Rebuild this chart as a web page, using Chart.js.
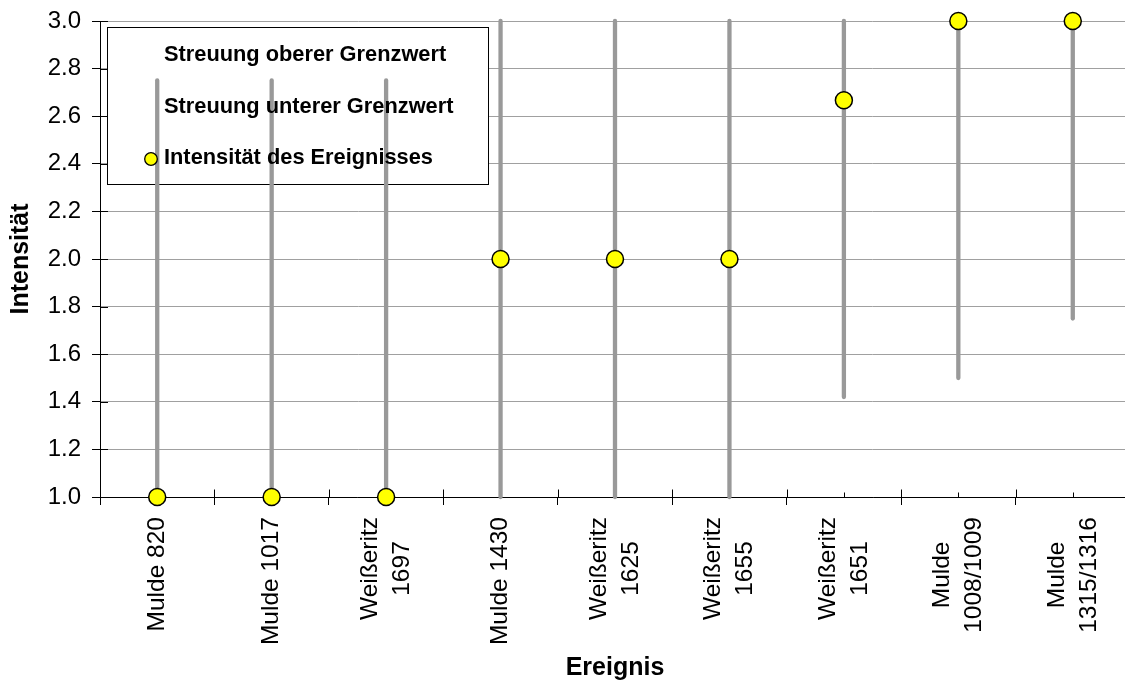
<!DOCTYPE html>
<html>
<head>
<meta charset="utf-8">
<script src="https://cdn.jsdelivr.net/npm/chart.js@4/dist/chart.umd.min.js"></script>
<style>
  html, body { margin: 0; padding: 0; overflow: hidden; background: #fff; width: 1125px; height: 684px; }
  #wrap { position: relative; width: 1140px; height: 684px; }
</style>
</head>
<body>
<div id="wrap"><canvas id="c"></canvas></div>
<script>
// ---- data ----
const categories = [
  ["Mulde 820"], ["Mulde 1017"], ["Weißeritz", "1697"], ["Mulde 1430"],
  ["Weißeritz", "1625"], ["Weißeritz", "1655"], ["Weißeritz", "1651"],
  ["Mulde", "1008/1009"], ["Mulde", "1315/1316"]
];
const upperLimit = [2.75, 2.75, 2.75, 3.0, 3.0, 3.0, 3.0, 3.0, 3.0];
const lowerLimit = [1.0, 1.0, 1.0, 1.0, 1.0, 1.0, 1.42, 1.5, 1.75];
const intensity  = [1.0, 1.0, 1.0, 2.0, 2.0, 2.0, 2.667, 3.0, 3.0];
const seriesNames = ["Streuung oberer Grenzwert", "Streuung unterer Grenzwert", "Intensität des Ereignisses"];
const yMin = 1.0, yMax = 3.0, yStep = 0.2;
const xTitle = "Ereignis";
const yTitle = "Intensität";

const FONT = "'Liberation Sans', Arial, Helvetica, sans-serif";

// high-low lines between upper and lower series
const hiLoPlugin = {
  id: 'hiLo',
  beforeDatasetsDraw(chart) {
    const ctx = chart.ctx;
    const xs = chart.scales.x, ys = chart.scales.y;
    const area = chart.chartArea;
    ctx.save();
    // inner parts of tick marks
    ctx.strokeStyle = '#000';
    ctx.lineWidth = 1;
    ys.ticks.forEach((t) => {
      const y = Math.round(ys.getPixelForValue(t.value)) + 0.5;
      ctx.beginPath(); ctx.moveTo(area.left, y); ctx.lineTo(area.left + 8, y); ctx.stroke();
    });
    const bottom = Math.round(area.bottom) + 0.5;
    for (let i = 0; i <= categories.length; i++) {
      const x = Math.round(xs.getPixelForValue(i - 0.5)) + 0.5;
      ctx.beginPath(); ctx.moveTo(x, bottom - 8); ctx.lineTo(x, bottom); ctx.stroke();
    }
    for (let i = 0; i < categories.length; i++) {
      const x = Math.round(xs.getPixelForValue(i)) + 0.5;
      ctx.beginPath(); ctx.moveTo(x, bottom - 5); ctx.lineTo(x, bottom); ctx.stroke();
    }
    // legend box (under the series)
    const lb = chart.options.plugins.innerLegend.box;
    ctx.fillStyle = '#fff';
    ctx.fillRect(lb.x, lb.y, lb.w, lb.h);
    ctx.strokeStyle = '#000';
    ctx.strokeRect(lb.x + 0.5, lb.y + 0.5, lb.w, lb.h);
    // hi-lo lines
    ctx.strokeStyle = '#999999';
    ctx.lineWidth = 4.3;
    ctx.lineCap = 'round';
    const up = chart.data.datasets[0].data, lo = chart.data.datasets[1].data;
    for (let i = 0; i < up.length; i++) {
      const x = xs.getPixelForValue(i);
      ctx.beginPath();
      ctx.moveTo(x, ys.getPixelForValue(up[i]));
      ctx.lineTo(x, ys.getPixelForValue(lo[i]));
      ctx.stroke();
    }
    ctx.restore();
  },
  afterDatasetsDraw(chart) {
    const ctx = chart.ctx;
    const cfg = chart.options.plugins.innerLegend;
    ctx.save();
    ctx.font = 'bold 21.8px ' + FONT;
    ctx.fillStyle = '#000';
    ctx.textBaseline = 'middle';
    ctx.textAlign = 'left';
    chart.data.datasets.forEach((ds, i) => {
      const y = cfg.rows[i];
      if (ds.pointRadius > 0) {
        ctx.beginPath();
        ctx.arc(cfg.markerX, y + 1, 6.3, 0, Math.PI * 2);
        ctx.fillStyle = ds.backgroundColor;
        ctx.fill();
        ctx.lineWidth = 1.3;
        ctx.strokeStyle = '#000';
        ctx.stroke();
        ctx.fillStyle = '#000';
      }
      ctx.fillText(ds.label, cfg.textX, y);
    });
    ctx.restore();
  },
  afterDraw(chart) {
    // x category labels, rotated, lines centred on each other
    const ctx = chart.ctx;
    const xs = chart.scales.x;
    const top = chart.chartArea.bottom + 20;
    const lh = 32;
    ctx.save();
    ctx.font = '24.5px ' + FONT;
    ctx.fillStyle = '#000';
    ctx.textAlign = 'center';
    ctx.textBaseline = 'middle';
    categories.forEach((lines, i) => {
      const px = xs.getPixelForValue(i);
      const maxW = Math.max(...lines.map(l => ctx.measureText(l).width));
      const cy = top + maxW / 2;
      lines.forEach((line, j) => {
        const cx = px + (j - (lines.length - 1) / 2) * lh;
        ctx.save();
        ctx.translate(cx, cy);
        ctx.rotate(-Math.PI / 2);
        ctx.fillText(line, 0, 0);
        ctx.restore();
      });
    });
    ctx.restore();
  }
};

new Chart(document.getElementById('c'), {
  data: {
    labels: categories,
    datasets: [
      { type: 'line', label: seriesNames[0], data: upperLimit, showLine: false, pointRadius: 0, pointHoverRadius: 0, clip: false },
      { type: 'line', label: seriesNames[1], data: lowerLimit, showLine: false, pointRadius: 0, pointHoverRadius: 0, clip: false },
      { type: 'line', label: seriesNames[2], data: intensity, showLine: false, pointRadius: 8.5,
        pointHoverRadius: 8.5, backgroundColor: '#ffff00', borderColor: '#000000', pointBorderWidth: 1.5, clip: false }
    ]
  },
  options: {
    responsive: true,
    maintainAspectRatio: false,
    animation: false,
    events: [],
    layout: { padding: { top: 21, left: 0, right: 5, bottom: 0 } },
    plugins: {
      legend: { display: false },
      tooltip: { enabled: false },
      innerLegend: {
        box: { x: 107, y: 27, w: 381, h: 157 },
        rows: [55, 107, 158],
        textX: 164,
        markerX: 151
      }
    },
    scales: {
      x: {
        type: 'category',
        offset: true,
        grid: { display: true, drawOnChartArea: false, drawTicks: true, tickLength: 8, offset: true, color: '#000', tickColor: '#000' },
        border: { display: true, color: '#000', width: 1 },
        ticks: { display: false },
        title: { display: true, text: xTitle, font: { family: FONT, size: 25, weight: 'bold' }, color: '#000', padding: { top: 0, bottom: 1 } },
        afterFit(scale) { scale.height = 187; scale.paddingLeft = 0; scale.paddingRight = 0; }
      },
      y: {
        type: 'linear',
        min: yMin, max: yMax,
        ticks: { stepSize: yStep, padding: 11, color: '#000', font: { family: FONT, size: 24 },
                 callback: (v) => Number(v).toFixed(1) },
        grid: { color: '#a0a0a0', lineWidth: 1, drawTicks: true, tickLength: 8, tickColor: '#000' },
        border: { display: true, color: '#000', width: 1 },
        title: { display: true, text: yTitle, font: { family: FONT, size: 25, weight: 'bold' }, color: '#000', padding: { top: 6, bottom: 0 } },
        afterFit(scale) { scale.width = 100; scale.paddingTop = 0; scale.paddingBottom = 0; }
      }
    }
  },
  plugins: [hiLoPlugin]
});
</script>
</body>
</html>
